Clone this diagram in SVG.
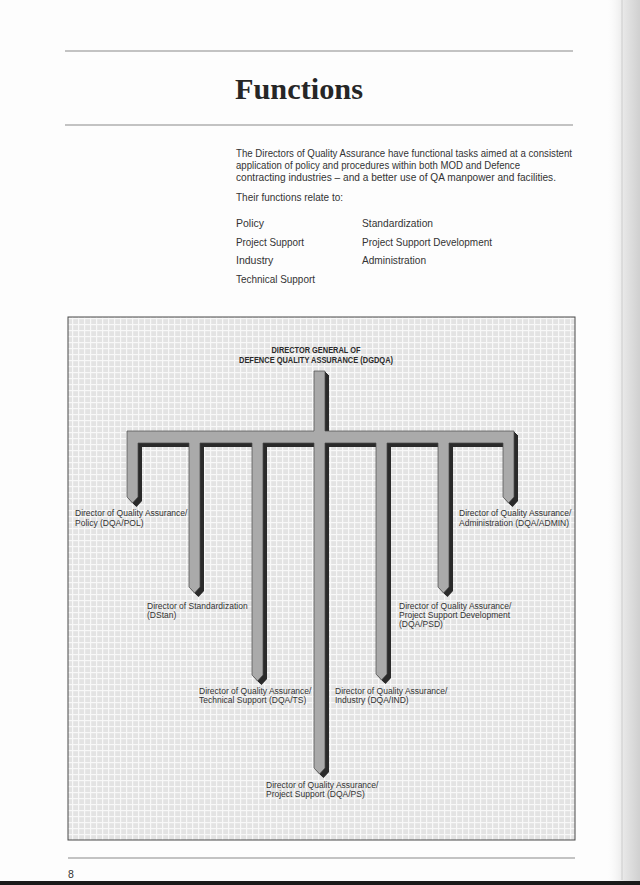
<svg xmlns="http://www.w3.org/2000/svg" xmlns:xlink="http://www.w3.org/1999/xlink" width="640" height="885" viewBox="0 0 640 885">
<style>
.rule{stroke:#8a8a8a;stroke-width:1.2;fill:none}
.body{font-family:"Liberation Sans","Open Sans",sans-serif;font-size:10.5px;fill:#333333}
.lab{font-family:"Liberation Sans","Open Sans",sans-serif;font-size:8.5px;fill:#333333}
.hd{font-family:"Liberation Sans","Open Sans",sans-serif;font-size:8.6px;font-weight:bold;fill:#2a2a2a}
.title{font-family:"Liberation Serif","DejaVu Serif",serif;font-size:29px;font-weight:bold;fill:#262626}
.sh{fill:#2a2a2a}
.pipe{fill:#aaaaaa;stroke:#4a4a4a;stroke-width:0.7;stroke-linejoin:miter}
</style>
<defs>
<pattern id="grid" width="6" height="6" patternUnits="userSpaceOnUse">
<rect width="6" height="6" fill="#f8f8f8"/>
<rect x="1.2" y="1.2" width="4.8" height="4.8" fill="#e3e3e3"/>
</pattern>
<linearGradient id="curl" x1="0" y1="0" x2="1" y2="0">
<stop offset="0" stop-color="#ffffff" stop-opacity="0"/>
<stop offset="0.55" stop-color="#e6e6e6"/>
<stop offset="1" stop-color="#d0d0d0"/>
</linearGradient>
<path id="pipeShape" d="M314,371 H325 V431 H514 V497 L508.5,503 L503,497 V443 H449 V587 L443.5,593 L438,587 V443 H387 V674 L381.5,680 L376,674 V443 H325 V768 L319.5,774 L314,768 V443 H263 V675 L257.5,681 L252,675 V443 H200 V587 L194.5,593 L189,587 V443 H138 V497 L132.5,503 L127,497 V431 H314 Z"/>
</defs>
<rect width="640" height="885" fill="#fdfdfd"/>
<rect x="605" y="0" width="35" height="885" fill="url(#curl)"/>
<line x1="622" y1="0" x2="622" y2="880" stroke="#c4c4c4" stroke-width="0.8"/>
<rect x="0" y="881" width="640" height="4" fill="#1a1a1a"/>

<line class="rule" x1="65" y1="51" x2="573" y2="51"/>
<text class="title" x="235" y="99" textLength="128" lengthAdjust="spacingAndGlyphs">Functions</text>
<line class="rule" x1="65" y1="125" x2="573" y2="125"/>

<g id="intro">
<text class="body" x="236" y="157" textLength="336" lengthAdjust="spacingAndGlyphs">The Directors of Quality Assurance have functional tasks aimed at a consistent</text>
<text class="body" x="236" y="169" textLength="284" lengthAdjust="spacingAndGlyphs">application of policy and procedures within both MOD and Defence</text>
<text class="body" x="236" y="181" textLength="320" lengthAdjust="spacingAndGlyphs">contracting industries – and a better use of QA manpower and facilities.</text>
<text class="body" x="236" y="201" textLength="107" lengthAdjust="spacingAndGlyphs">Their functions relate to:</text>
<text class="body" x="236" y="227">Policy</text>
<text class="body" x="236" y="246" textLength="68" lengthAdjust="spacingAndGlyphs">Project Support</text>
<text class="body" x="236" y="264">Industry</text>
<text class="body" x="236" y="283" textLength="79" lengthAdjust="spacingAndGlyphs">Technical Support</text>
<text class="body" x="362" y="227" textLength="71" lengthAdjust="spacingAndGlyphs">Standardization</text>
<text class="body" x="362" y="246" textLength="130" lengthAdjust="spacingAndGlyphs">Project Support Development</text>
<text class="body" x="362" y="264" textLength="64" lengthAdjust="spacingAndGlyphs">Administration</text>
</g>

<rect x="68" y="317" width="507" height="523" fill="url(#grid)" stroke="#4a4a4a" stroke-width="1"/>

<g id="connectors">
<use xlink:href="#pipeShape" class="sh" transform="translate(1,1)"/>
<use xlink:href="#pipeShape" class="sh" transform="translate(2,2)"/>
<use xlink:href="#pipeShape" class="sh" transform="translate(3,3)"/>
<use xlink:href="#pipeShape" class="sh" transform="translate(4,4)"/>
<use xlink:href="#pipeShape" class="pipe"/>
</g>

<g id="dgdqa">
<text class="hd" x="316" y="353" text-anchor="middle" textLength="89" lengthAdjust="spacingAndGlyphs">DIRECTOR GENERAL OF</text>
<text class="hd" x="316" y="363" text-anchor="middle" textLength="154" lengthAdjust="spacingAndGlyphs">DEFENCE QUALITY ASSURANCE (DGDQA)</text>
</g>
<g id="dqa-pol">
<text class="lab" x="75" y="516">Director of Quality Assurance/</text>
<text class="lab" x="75" y="526">Policy (DQA/POL)</text>
</g>
<g id="dqa-admin">
<text class="lab" x="459" y="516">Director of Quality Assurance/</text>
<text class="lab" x="459" y="526">Administration (DQA/ADMIN)</text>
</g>
<g id="dstan">
<text class="lab" x="147" y="609">Director of Standardization</text>
<text class="lab" x="147" y="618">(DStan)</text>
</g>
<g id="dqa-psd">
<text class="lab" x="399" y="609">Director of Quality Assurance/</text>
<text class="lab" x="399" y="618">Project Support Development</text>
<text class="lab" x="399" y="627">(DQA/PSD)</text>
</g>
<g id="dqa-ts">
<text class="lab" x="199" y="694">Director of Quality Assurance/</text>
<text class="lab" x="199" y="703">Technical Support (DQA/TS)</text>
</g>
<g id="dqa-ind">
<text class="lab" x="335" y="694">Director of Quality Assurance/</text>
<text class="lab" x="335" y="703">Industry (DQA/IND)</text>
</g>
<g id="dqa-ps">
<text class="lab" x="266" y="788">Director of Quality Assurance/</text>
<text class="lab" x="266" y="797">Project Support (DQA/PS)</text>
</g>

<line class="rule" x1="68" y1="858" x2="575" y2="858"/>
<text class="body" x="68" y="878">8</text>
</svg>
